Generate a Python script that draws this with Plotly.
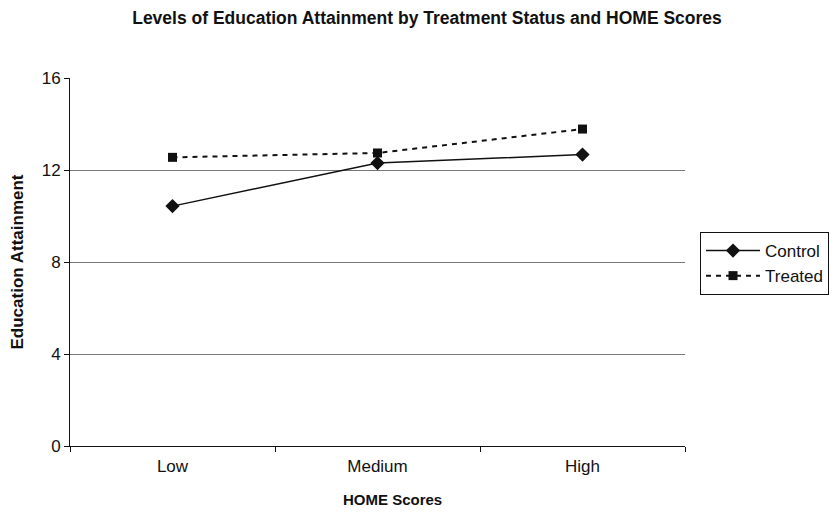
import plotly.graph_objects as go

categories = ["Low", "Medium", "High"]
control = [10.43, 12.3, 12.67]
treated = [12.55, 12.74, 13.78]
y_ticks = [0, 4, 8, 12, 16]

FONT = "Liberation Sans, Arial, sans-serif"
INK = "#111111"

fig = go.Figure()
fig.add_trace(go.Scatter(
    x=categories, y=control, name="Control", mode="lines+markers",
    line=dict(color=INK, width=1.5),
    marker=dict(symbol="diamond", size=11, color=INK),
))
fig.add_trace(go.Scatter(
    x=categories, y=treated, name="Treated", mode="lines+markers",
    line=dict(color=INK, width=2, dash="5px,5px"),
    marker=dict(symbol="square", size=9, color=INK),
))

fig.update_layout(
    width=838, height=513,
    margin=dict(l=62, r=161, t=70, b=75, autoexpand=False),
    paper_bgcolor="white", plot_bgcolor="white",
    font=dict(family=FONT, size=17, color=INK),
    title=dict(
        text="<b>Levels of Education Attainment by Treatment Status and HOME Scores</b>",
        x=0.5, xref="container", xanchor="center", y=0.98, yanchor="middle",
        font=dict(family=FONT, size=17.5, color=INK),
    ),
    showlegend=True,
    legend=dict(
        xref="container", yref="container",
        x=0.8258, xanchor="left", y=0.5634, yanchor="top",
        bordercolor=INK, borderwidth=1, bgcolor="white",
        font=dict(family=FONT, size=17, color=INK),
        itemwidth=54,
    ),
    xaxis=dict(
        type="category", categoryorder="array", categoryarray=categories,
        range=[-0.5, 2.5],
        showline=True, linecolor=INK, linewidth=1,
        ticks="outside", tickson="boundaries", ticklen=5, tickcolor=INK,
        ticklabelstandoff=5,
        showgrid=False, zeroline=False,
    ),
    yaxis=dict(
        range=[0, 16], tickvals=y_ticks,
        showline=True, linecolor=INK, linewidth=1,
        ticks="outside", ticklen=5, tickcolor=INK,
        showgrid=True, gridcolor="#777777", gridwidth=1,
        zeroline=False,
        title=dict(text="<b>Education Attainment</b>", font=dict(family=FONT, size=17), standoff=13),
    ),
    annotations=[dict(
        text="<b>HOME Scores</b>", xref="paper", yref="paper",
        x=0.5, y=-0.1467, xanchor="center", yanchor="middle", xshift=15,
        showarrow=False, font=dict(family=FONT, size=15, color=INK),
    )],
)

fig.write_html("out.html")
